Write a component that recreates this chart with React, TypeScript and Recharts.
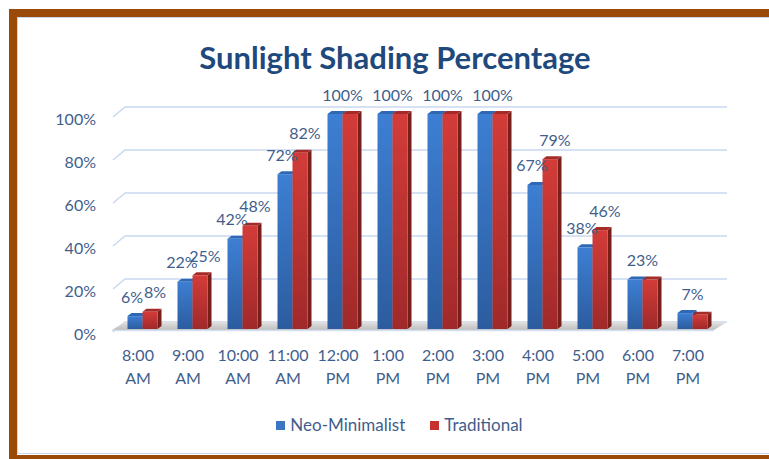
import React from "react"
import { BarChart, Bar, XAxis, YAxis, CartesianGrid, ReferenceArea, LabelList } from "recharts"

const categories = [
  "8:00 AM", "9:00 AM", "10:00 AM", "11:00 AM", "12:00 PM", "1:00 PM",
  "2:00 PM", "3:00 PM", "4:00 PM", "5:00 PM", "6:00 PM", "7:00 PM",
]
const neoMinimalist = [6, 22, 42, 72, 100, 100, 100, 100, 67, 38, 23, 7.4]
const traditional = [8, 25, 48, 82, 100, 100, 100, 100, 79, 46, 23, 6.6]
const yTicks = [0, 20, 40, 60, 80, 100]
const seriesNames = ["Neo-Minimalist", "Traditional"]

const FONT = "Lato, 'Open Sans', sans-serif"
const TEXT = "#3f5e8c"
const SHIFT = 4.5 // 3d depth pushes the bars a bit to the right

const NEO = { grad: "neoGrad", top: "#2f68b4", side: "#24508c", legend: "#3a76c4" }
const TRAD = { grad: "tradGrad", top: "#a52b29", side: "#7a1e1c", legend: "#c7322f" }

const fmt = (v: number) => `${Math.round(v)}%`

const data = categories.map((c, i) => ({
  name: c,
  neo: neoMinimalist[i],
  trad: traditional[i],
}))

function Bar3D(props: any) {
  const { x, y, width, height, colors } = props
  if (!height || height <= 0) return null
  const d = 4
  const dy = 3
  const x0 = x + SHIFT
  const x1 = x0 + width
  const bot = y + height
  return (
    <g>
      <polygon points={`${x1},${y} ${x1 + d},${y - dy} ${x1 + d},${bot - dy} ${x1},${bot}`} fill={colors.side} />
      <polygon points={`${x0},${y} ${x0 + d},${y - dy} ${x1 + d},${y - dy} ${x1},${y}`} fill={colors.top} />
      <rect x={x0} y={y} width={width} height={height} fill={`url(#${colors.grad})`} />
    </g>
  )
}

function Floor(props: any) {
  const { x, y, width, height } = props
  const yb = y + height
  return (
    <g>
      <polygon
        points={`${x - 1},${yb + 1} ${x + 12},${yb - 7} ${x + width + 14},${yb - 7} ${x + width + 1},${yb + 1}`}
        fill="url(#floorGrad)"
      />
      <line x1={x - 1} y1={yb + 1.5} x2={x + width + 1} y2={yb + 1.5} stroke="#d4e0f0" strokeWidth={1.5} />
    </g>
  )
}

function GridLine(props: any) {
  const { x1, y1, x2, index } = props
  return (
    <path
      key={`grid-${index}-${y1}`}
      d={`M${x1},${y1 + 3} L${x1 + 12},${y1 - 7} L${x2 + 14},${y1 - 7}`}
      fill="none"
      stroke="#c9d9ef"
      strokeWidth={1.5}
    />
  )
}

function XTick(props: any) {
  const { x, y, payload } = props
  const [time, ampm] = String(payload.value).split(" ")
  return (
    <text textAnchor="middle" fontFamily={FONT} fontSize={16} fill={TEXT}>
      <tspan x={x} y={y + 32}>{time}</tspan>
      <tspan x={x} y={y + 55}>{ampm}</tspan>
    </text>
  )
}

function YTick(props: any) {
  const { x, y, payload } = props
  return (
    <text x={x} y={y + 4} textAnchor="end" dominantBaseline="central" fontFamily={FONT} fontSize={16} fill={TEXT}>
      {payload.value}%
    </text>
  )
}

const neoLabel = (props: any) => {
  const { x, y, width, index } = props
  const same = fmt(neoMinimalist[index]) === fmt(traditional[index])
  const cx = same ? x + width + SHIFT : x + width / 2 + SHIFT - 3
  return (
    <text key={`nl-${index}`} x={cx} y={y - 20} textAnchor="middle" dominantBaseline="central" fontFamily={FONT} fontSize={16} fill={TEXT}>
      {fmt(neoMinimalist[index])}
    </text>
  )
}

const tradLabel = (props: any) => {
  const { x, y, width, index } = props
  if (fmt(neoMinimalist[index]) === fmt(traditional[index])) return null
  return (
    <text key={`tl-${index}`} x={x + width / 2 + SHIFT + 5} y={y - 20} textAnchor="middle" dominantBaseline="central" fontFamily={FONT} fontSize={16} fill={TEXT}>
      {fmt(traditional[index])}
    </text>
  )
}

export default function App() {
  return (
    <div style={{ position: "relative", width: 769, height: 459, overflow: "hidden", background: "#fff" }}>
      <style>{`body{margin:0}`}</style>
      <div
        style={{
          position: "absolute", left: 9, top: 9, width: 820, height: 454,
          border: "8px solid #9b4a08", borderRight: "none", boxSizing: "border-box",
        }}
      />
      <div
        style={{
          position: "absolute", left: 17, top: 17, width: 820, height: 437,
          borderTop: "1px solid #c8d8ee", borderLeft: "1px solid #c8d8ee", borderBottom: "1px solid #c8d8ee",
          boxSizing: "border-box",
        }}
      />
      <div
        style={{
          position: "absolute", left: 0, top: 39, width: 790, textAlign: "center",
          fontFamily: FONT, fontWeight: 700, fontSize: 31, lineHeight: "36px", color: "#1f497d",
        }}
      >
        Sunlight Shading Percentage
      </div>
      <div style={{ position: "absolute", left: 0, top: 0 }}>
        <BarChart
          width={769}
          height={459}
          data={data}
          margin={{ top: 114, right: 56, left: 53, bottom: 100 }}
          barSize={15}
          barGap={0}
        >
          <defs>
            <linearGradient id="neoGrad" x1="0" y1="0" x2="0" y2="1">
              <stop offset="0%" stopColor="#3d7fd3" />
              <stop offset="100%" stopColor="#2c5c9f" />
            </linearGradient>
            <linearGradient id="tradGrad" x1="0" y1="0" x2="0" y2="1">
              <stop offset="0%" stopColor="#d33c38" />
              <stop offset="100%" stopColor="#a0292a" />
            </linearGradient>
            <linearGradient id="floorGrad" x1="0" y1="0" x2="0" y2="1">
              <stop offset="0%" stopColor="#e2e2e2" />
              <stop offset="100%" stopColor="#bdbdbd" />
            </linearGradient>
          </defs>
          <CartesianGrid vertical={false} horizontal={GridLine} />
          <XAxis dataKey="name" axisLine={false} tickLine={false} tickSize={0} tickMargin={0} interval={0} tick={<XTick />} />
          <YAxis width={60} domain={[0, 100]} ticks={yTicks} axisLine={false} tickLine={false} tickSize={0} tickMargin={17} tick={<YTick />} />
          <ReferenceArea y1={0} y2={4} shape={<Floor />} />
          <Bar dataKey="neo" name={seriesNames[0]} isAnimationActive={false} shape={(p: any) => <Bar3D {...p} colors={NEO} />}>
            <LabelList dataKey="neo" content={neoLabel} />
          </Bar>
          <Bar dataKey="trad" name={seriesNames[1]} isAnimationActive={false} shape={(p: any) => <Bar3D {...p} colors={TRAD} />}>
            <LabelList dataKey="trad" content={tradLabel} />
          </Bar>
        </BarChart>
      </div>
      <div
        style={{
          position: "absolute", left: 0, top: 413, width: 799, display: "flex", justifyContent: "center",
          alignItems: "center", gap: 25, fontFamily: FONT, fontSize: 17, color: TEXT, lineHeight: "24px",
        }}
      >
        {[NEO, TRAD].map((c, i) => (
          <div key={seriesNames[i]} style={{ display: "flex", alignItems: "center", gap: 5 }}>
            <span style={{ display: "inline-block", width: 9, height: 9, background: c.legend }} />
            <span>{seriesNames[i]}</span>
          </div>
        ))}
      </div>
    </div>
  )
}
